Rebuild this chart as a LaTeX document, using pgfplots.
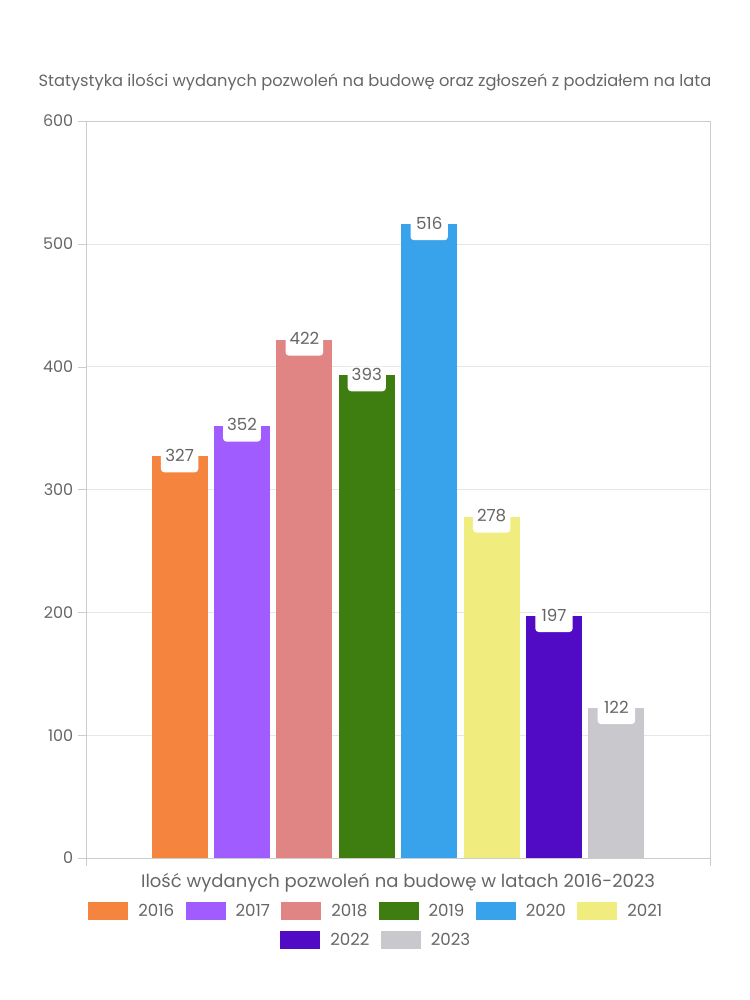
\documentclass[border=0pt]{standalone}
\usepackage{pgfplots}
\pgfplotsset{compat=1.18}
\usepackage{fontspec}
\setmainfont{Poppins}
\definecolor{c16}{HTML}{F5843F}
\definecolor{c17}{HTML}{A05CFF}
\definecolor{c18}{HTML}{E08484}
\definecolor{c19}{HTML}{3E7D0F}
\definecolor{c20}{HTML}{38A3EB}
\definecolor{c21}{HTML}{F0EC7E}
\definecolor{c22}{HTML}{510BC4}
\definecolor{c23}{HTML}{C9C9CD}
\definecolor{txt}{HTML}{666666}
\definecolor{axgray}{HTML}{CCCCCC}
\definecolor{gridgray}{HTML}{E6E6E6}
\pgfplotsset{
  mybar/.style={ybar, bar width=0.9, bar shift=0pt, draw=none,
    nodes near coords,
    every node near coord/.append style={anchor=base, yshift=-3.75pt, fill=white,
      rounded corners=2.5pt, text depth=7.25pt, inner xsep=3pt, inner ysep=1pt,
      minimum width=28pt, font=\fontsize{12.5}{15}\selectfont, text=txt},
    legend image code/.code={\fill[##1] (0pt,-6.75pt) rectangle (30pt,6.75pt);}},
  mylegend/.style={legend style={draw=none, fill=none, inner sep=0pt, anchor=west,
      font=\fontsize{12.5}{15}\selectfont, text=txt,
      nodes={inner sep=0pt},
      /tikz/every odd column/.append style={column sep=7.5pt},
      /tikz/every even column/.append style={column sep=8.5pt}},
    legend cell align=left},
}
\begin{document}
\begin{tikzpicture}
\useasboundingbox (-64.5pt,-106.5pt) rectangle (498pt,643.5pt);
\node[anchor=base, text=txt, font=\fontsize{12.2}{14}\selectfont] at (216.75pt,578.25pt)
  {Statystyka ilości wydanych pozwoleń na budowę oraz zgłoszeń z podziałem na lata};
\begin{axis}[
  at={(0pt,0pt)}, anchor=south west,
  scale only axis, width=468pt, height=552.75pt,
  xmin=-1.5, xmax=8.5, ymin=0, ymax=600,
  ytick={0,100,...,600}, xtick={-1.5,8.5}, xticklabels={},
  tick align=outside, major tick length=6pt,
  xtick pos=bottom, ytick pos=left,
  tick style={color=axgray},
  axis line style={color=axgray},
  ymajorgrids, grid style={color=gridgray},
  /pgf/number format/assume math mode=true,
  yticklabel style={font=\fontsize{12}{14}\selectfont, text=txt},
  xlabel={Ilość wydanych pozwoleń na budowę w latach 2016-2023},
  xlabel style={at={(axis description cs:0.5,0)}, anchor=base, yshift=-21.75pt,
    font=\fontsize{13.5}{16}\selectfont, text=txt},
  mylegend, legend columns=6,
  legend style={at={(0.0032,-0.0719)}},
]
\addplot[mybar, fill=c16] coordinates {(0,327)}; \addlegendentry{2016}
\addplot[mybar, fill=c17] coordinates {(1,352)}; \addlegendentry{2017}
\addplot[mybar, fill=c18] coordinates {(2,422)}; \addlegendentry{2018}
\addplot[mybar, fill=c19] coordinates {(3,393)}; \addlegendentry{2019}
\addplot[mybar, fill=c20] coordinates {(4,516)}; \addlegendentry{2020}
\addplot[mybar, fill=c21] coordinates {(5,278)}; \addlegendentry{2021}
\addplot[mybar, fill=c22, forget plot] coordinates {(6,197)};
\addplot[mybar, fill=c23, forget plot] coordinates {(7,122)};
\end{axis}
\begin{axis}[
  at={(0pt,0pt)}, anchor=south west,
  scale only axis, width=468pt, height=552.75pt,
  xmin=-1.5, xmax=8.5, ymin=0, ymax=600,
  hide axis,
  legend image code/.code={\fill[#1] (0pt,-6.75pt) rectangle (30pt,6.75pt);},
  mylegend, legend columns=2,
  legend style={at={(0.3109,-0.1113)}},
]
\addlegendimage{fill=c22, draw=none}\addlegendentry{2022}
\addlegendimage{fill=c23, draw=none}\addlegendentry{2023}
\end{axis}
\end{tikzpicture}
\end{document}
